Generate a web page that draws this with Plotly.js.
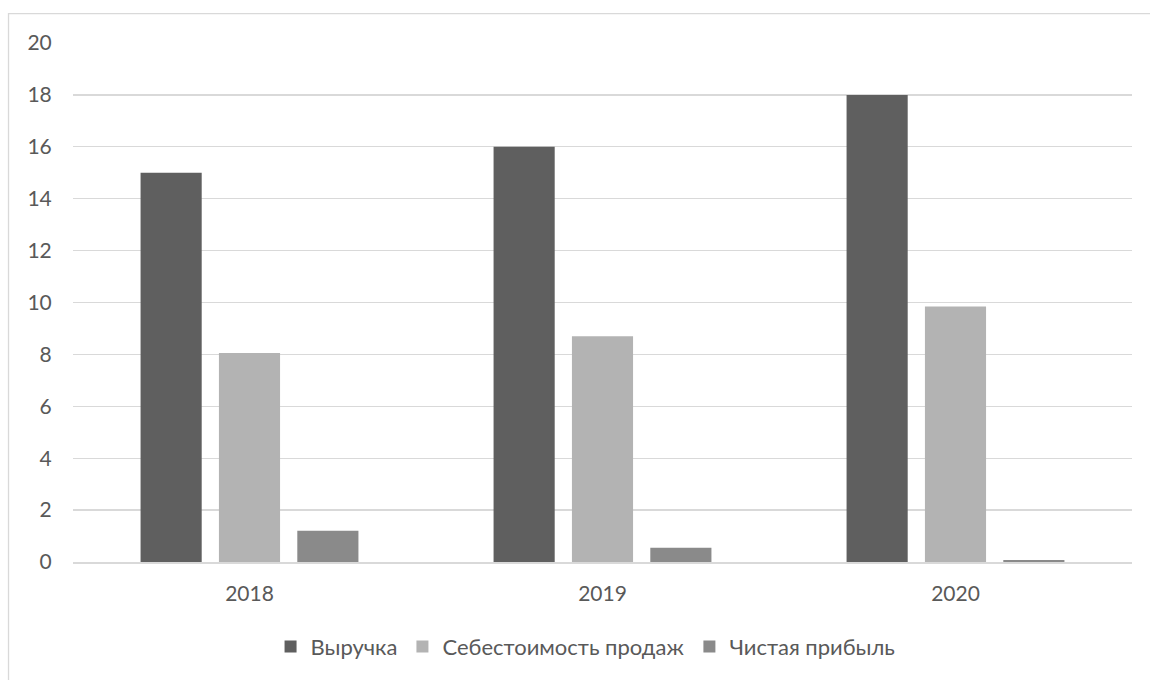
<!DOCTYPE html>
<html>
<head>
<meta charset="utf-8">
<script src="https://cdn.plot.ly/plotly-3.0.1.min.js"></script>
<style>
  html, body { margin: 0; padding: 0; background: #ffffff; }
  #chart { width: 1150px; height: 680px; }
</style>
</head>
<body>
<div id="chart"></div>
<script>
// Years on the category axis
const years = ['2018', '2019', '2020'];

// Series values
const revenue = [15, 16, 18];          // Выручка
const costOfSales = [8.05, 8.7, 9.85]; // Себестоимость продаж
const netProfit = [1.2, 0.55, 0.08];   // Чистая прибыль

// Series names
const seriesNames = ['Выручка', 'Себестоимость продаж', 'Чистая прибыль'];

// Y axis ticks
const yTicks = [0, 2, 4, 6, 8, 10, 12, 14, 16, 18, 20];

const textColor = '#595959';
const fontFamily = 'Lato, "Open Sans", sans-serif';

const traces = [
  { name: seriesNames[0], values: revenue, color: '#5f5f5f' },
  { name: seriesNames[1], values: costOfSales, color: '#b3b3b3' },
  { name: seriesNames[2], values: netProfit, color: '#8a8a8a' }
].map(s => ({
  type: 'bar',
  name: s.name,
  x: years,
  y: s.values,
  marker: { color: s.color, line: { width: 0 } },
  hoverinfo: 'x+y+name'
}));

const layout = {
  width: 1150,
  height: 680,
  margin: { l: 73, r: 18, t: 43, b: 118, pad: 0 },
  paper_bgcolor: '#ffffff',
  plot_bgcolor: '#ffffff',
  font: { family: fontFamily, size: 21, color: textColor },
  barmode: 'group',
  bargap: 0.334,
  bargroupgap: 0.22,
  showlegend: true,
  legend: {
    orientation: 'h',
    x: 0.484,
    xanchor: 'center',
    y: -0.163,
    yanchor: 'middle',
    font: { family: fontFamily, size: 22, color: textColor },
    itemwidth: 30,
    traceorder: 'normal'
  },
  xaxis: {
    type: 'category',
    showgrid: false,
    zeroline: false,
    showline: true,
    linecolor: '#d9d9d9',
    linewidth: 1.5,
    ticks: 'outside',
    ticklen: 12,
    tickcolor: 'rgba(0,0,0,0)',
    tickfont: { family: fontFamily, size: 21, color: textColor },
    fixedrange: true
  },
  yaxis: {
    range: [0, 20],
    tickvals: yTicks,
    ticktext: yTicks.map(String),
    showgrid: true,
    gridcolor: '#d9d9d9',
    gridwidth: 1.3,
    zeroline: false,
    showline: false,
    ticks: 'outside',
    ticklen: 16,
    tickcolor: 'rgba(0,0,0,0)',
    tickfont: { family: fontFamily, size: 21, color: textColor },
    fixedrange: true
  },
  shapes: [
    // chart frame
    {
      type: 'rect',
      xref: 'paper', yref: 'paper',
      x0: -0.0609, x1: 1.05,
      y0: -0.35, y1: 1.0566,
      line: { color: '#d9d9d9', width: 1.3 },
      fillcolor: 'rgba(0,0,0,0)',
      layer: 'below'
    }
  ]
};

Plotly.newPlot('chart', traces, layout, { displayModeBar: false, staticPlot: true });
</script>
</body>
</html>
